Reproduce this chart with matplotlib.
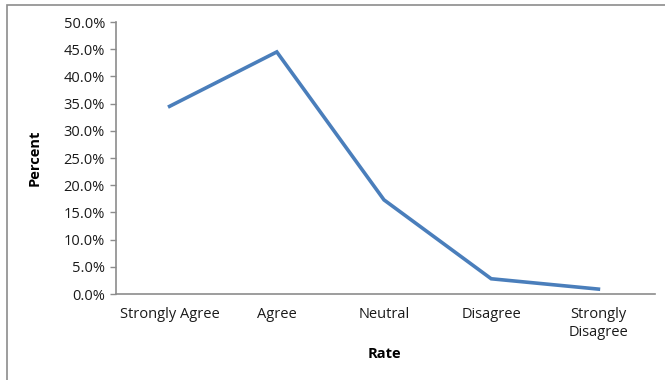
import matplotlib
matplotlib.use("Agg")
import matplotlib.pyplot as plt
from matplotlib.patches import Rectangle
from matplotlib.ticker import FuncFormatter, MultipleLocator

categories = ["Strongly Agree", "Agree", "Neutral", "Disagree", "Strongly\nDisagree"]
percent = [34.5, 44.5, 17.3, 2.8, 0.9]

plt.rcParams['font.family'] = ['Open Sans', 'DejaVu Sans']

W, H = 665, 380
fig = plt.figure(figsize=(W / 100, H / 100), dpi=100)

# outer chart frame (runs off the right and bottom edges)
fig.patches.append(Rectangle((7 / W, -0.1), 1.2, (1 - 5 / H) + 0.1,
                             transform=fig.transFigure, fill=False,
                             edgecolor="#8c8c8c", linewidth=1.2))

ax = fig.add_axes([116 / W, 1 - 294 / H, (652 - 116) / W, (294 - 22) / H])
x = range(len(categories))
ax.plot(x, percent, color="#4a7ebb", linewidth=2.6, solid_joinstyle="miter")

FS = 10.5
ax.set_xlim(-0.5, len(categories) - 0.5)
ax.set_ylim(0, 50)
ax.yaxis.set_major_locator(MultipleLocator(5))
ax.yaxis.set_major_formatter(FuncFormatter(lambda v, p: f"{v:.1f}%"))
ax.set_xticks(list(x))
ax.set_xticklabels(categories, fontsize=FS, color="#1a1a1a", linespacing=1.35)
ax.tick_params(axis="x", length=0, pad=9)
ax.tick_params(axis="y", length=4, width=1, color="#8c8c8c", labelsize=FS,
               labelcolor="#1a1a1a", pad=4)

for s in ("top", "right"):
    ax.spines[s].set_visible(False)
for s in ("left", "bottom"):
    ax.spines[s].set_color("#8c8c8c")
    ax.spines[s].set_linewidth(1.2)
ax.spines["bottom"].set_bounds(-0.5, 4.53)

ax.set_xlabel("Rate", fontsize=FS, fontweight="bold", labelpad=5)
ax.set_ylabel("Percent", fontsize=FS, fontweight="bold", labelpad=16)

fig.savefig("out.png", dpi=100)
